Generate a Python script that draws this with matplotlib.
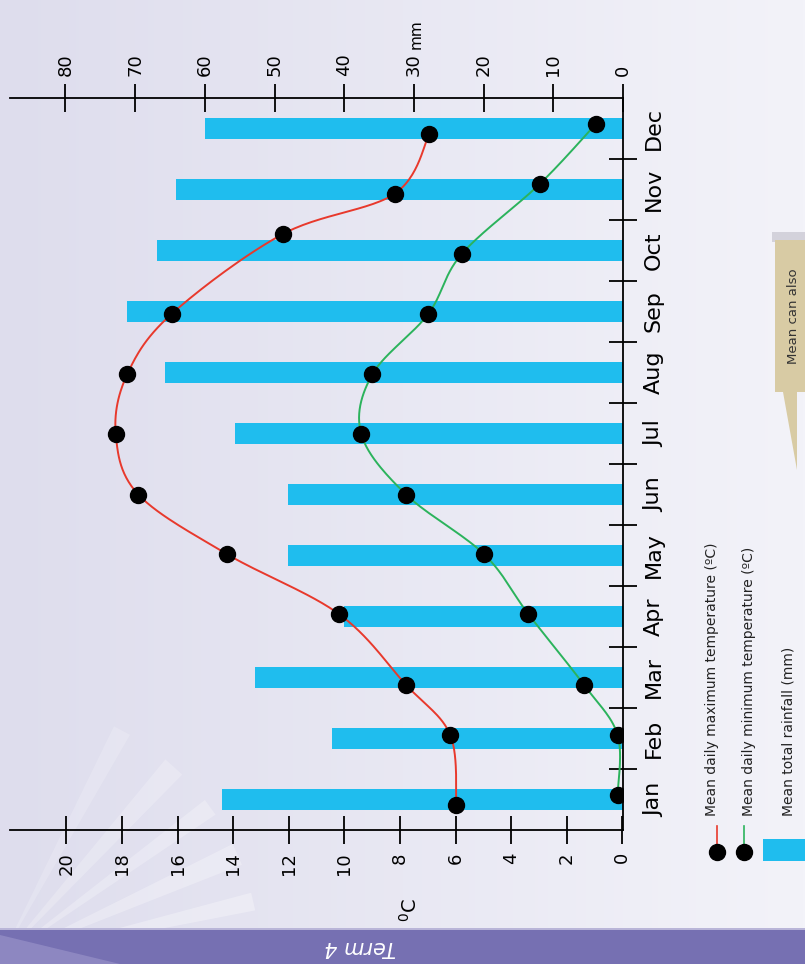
#!/usr/bin/env python3
"""Climate chart (temperature + rainfall), page rotated 90 degrees."""

import numpy as np
import matplotlib

matplotlib.use("Agg")

import matplotlib.pyplot as plt
from matplotlib.lines import Line2D
from matplotlib.patches import Polygon, Rectangle

MONTHS = ["Jan", "Feb", "Mar", "Apr", "May", "Jun",
          "Jul", "Aug", "Sep", "Oct", "Nov", "Dec"]
RAINFALL_MM = [57.5, 41.8, 52.8, 40, 48, 48, 55.7, 65.7, 71.2, 66.8, 64.1, 60]
MAX_TEMP = [5.97, 6.19, 7.78, 10.19, 14.21, 17.41,
            18.22, 17.81, 16.21, 12.21, 8.19, 6.94]
MIN_TEMP = [0.17, 0.17, 1.38, 3.38, 4.97, 7.78,
            9.39, 8.99, 6.98, 5.78, 2.97, 0.96]
# where each dot sits along the month axis (month index + 0.5 = centre)
MAX_MONTH_POS = [0.41, 1.56, 2.38, 3.54, 4.52, 5.50,
                 6.49, 7.47, 8.46, 9.77, 10.43, 11.41]
MIN_MONTH_POS = [0.57, 1.56, 2.38, 3.54, 4.52, 5.50,
                 6.49, 7.47, 8.46, 9.44, 10.59, 11.57]
TEMP_TICKS = [0, 2, 4, 6, 8, 10, 12, 14, 16, 18, 20]
RAIN_TICKS = [0, 10, 20, 30, 40, 50, 60, 70, 80]

W, H = 805, 964
BAR_BLUE = "#1fbdee"
RED = "#e8392c"
GREEN = "#2bb35c"
FONT = "DejaVu Sans"


def px(x, y):
    """Pixel position (from top-left) to figure fraction."""
    return x / W, 1 - y / H


def catmull_rom(xs, ys, steps=30):
    pts = np.column_stack([xs, ys]).astype(float)
    pts = np.vstack([pts[0], pts, pts[-1]])
    out = []
    for i in range(1, len(pts) - 2):
        p0, p1, p2, p3 = pts[i - 1], pts[i], pts[i + 1], pts[i + 2]
        t = np.linspace(0, 1, steps)[:, None]
        seg = 0.5 * ((2 * p1) + (-p0 + p2) * t
                     + (2 * p0 - 5 * p1 + 4 * p2 - p3) * t ** 2
                     + (-p0 + 3 * p1 - 3 * p2 + p3) * t ** 3)
        out.append(seg)
    curve = np.vstack(out)
    return curve[:, 0], curve[:, 1]


fig = plt.figure(figsize=(W / 100, H / 100), dpi=100)

# background page
bg = fig.add_axes([0, 0, 1, 1], zorder=-10)
grad = np.linspace(0, 1, 256)[None, :]
c0 = np.array([222, 221, 237]) / 255
c1 = np.array([243, 243, 249]) / 255
img = c0[None, None, :] * (1 - grad[..., None]) + c1[None, None, :] * grad[..., None]
bg.imshow(img, extent=(0, W, H, 0), aspect="auto")
for ang, spread, alpha in [(62, 4, 0.18), (48, 5, 0.22), (36, 4, 0.25),
                           (24, 5, 0.28), (13, 4, 0.3), (4, 4, 0.3)]:
    a1, a2 = np.radians(ang - spread / 2), np.radians(ang + spread / 2)
    r = 260
    bg.add_patch(Polygon([(0, 960), (r * np.cos(a1), 960 - r * np.sin(a1)),
                          (r * np.cos(a2), 960 - r * np.sin(a2))],
                         closed=True, facecolor="white", alpha=alpha,
                         edgecolor="none"))
bg.add_patch(Rectangle((0, 930), W, 34, facecolor="#7670b2", edgecolor="none"))
bg.add_patch(Rectangle((0, 928), W, 2, facecolor="#b9b5d8", edgecolor="none"))
bg.add_patch(Polygon([(0, 964), (0, 935), (120, 964)], closed=True,
                     facecolor="#9d97cc", alpha=0.6, edgecolor="none"))
# callout box
bg.add_patch(Rectangle((772, 232), 40, 10, facecolor="#8e8898", alpha=0.3,
                       edgecolor="none"))
bg.add_patch(Polygon([(783, 392), (797, 392), (797, 470)], closed=True,
                     facecolor="#d8cba4", edgecolor="none"))
bg.add_patch(Rectangle((775, 240), 40, 152, facecolor="#d8cba4",
                       edgecolor="none"))
bg.set_xlim(0, W)
bg.set_ylim(H, 0)
bg.axis("off")

# main chart axes, placed in pixel terms
x0, x1, ytop, ybot = 10, 623, 98, 830
ax = fig.add_axes([x0 / W, 1 - ybot / H, (x1 - x0) / W, (ybot - ytop) / H])
ax2 = ax.twiny()

t_scale, t_zero = 27.8, 622.3   # px per degree, pixel of 0 degrees
r_scale, r_zero = 7.0, 625.7    # px per mm, pixel of 0 mm
ax.set_xlim((t_zero - x0) / t_scale, (t_zero - x1) / t_scale)
ax2.set_xlim((r_zero - x0) / r_scale, (r_zero - x1) / r_scale)
ax.set_ylim(0, 12)

ypos = np.arange(12) + 0.5
ax2.barh(ypos, RAINFALL_MM, height=0.33, color=BAR_BLUE, zorder=2)

ax.set_zorder(ax2.get_zorder() + 1)
ax.patch.set_visible(False)
ax2.patch.set_visible(False)

for temps, pos, color in [(MAX_TEMP, MAX_MONTH_POS, RED),
                          (MIN_TEMP, MIN_MONTH_POS, GREEN)]:
    cx, cy = catmull_rom(temps, pos)
    ax.plot(cx, cy, color=color, lw=1.4, zorder=3)
    ax.plot(temps, pos, "o", color="black", ms=11.5, zorder=4)

# spines
for s in ["left", "top"]:
    ax.spines[s].set_visible(False)
for s in ["left", "right", "bottom"]:
    ax2.spines[s].set_visible(False)
ax.spines["bottom"].set_linewidth(1.3)
ax.spines["right"].set_linewidth(1.3)
ax2.spines["top"].set_linewidth(1.3)

ax.set_xticks(TEMP_TICKS)
ax.set_xticklabels([str(t) for t in TEMP_TICKS], rotation=90,
                   fontsize=13, family=FONT)
ax.tick_params(axis="x", direction="inout", length=20, width=1.3, pad=6)

ax2.set_xticks(RAIN_TICKS)
ax2.set_xticklabels([str(r) for r in RAIN_TICKS], rotation=90,
                    fontsize=13, family=FONT)
ax2.tick_params(axis="x", direction="inout", length=20, width=1.3, pad=6)

ax.yaxis.tick_right()
ax.set_yticks(np.arange(1, 12))
ax.set_yticklabels([])
ax.tick_params(axis="y", which="major", direction="inout", length=20,
               width=1.3)
ax.set_yticks(ypos, minor=True)
ax.set_yticklabels(MONTHS, minor=True, rotation=90, fontsize=16,
                   family=FONT, va="center")
ax.tick_params(axis="y", which="minor", length=0, pad=15)

# axis unit labels
fig.text(*px(410, 910), "$^{0}$C", rotation=90, fontsize=14, family=FONT,
         ha="center", va="center")
fig.text(*px(416, 34), "mm", rotation=90, fontsize=11, family=FONT,
         ha="center", va="center")

# legend drawn by hand
for lx, color in [(717, RED), (744, GREEN)]:
    fig.add_artist(Line2D([lx / W, lx / W], [1 - 826 / H, 1 - 850 / H],
                          color=color, lw=1.2))
    fig.add_artist(Line2D([lx / W], [1 - 852 / H], marker="o", color="black",
                          ms=11.5))
fig.add_artist(Rectangle(px(763, 861), 50 / W, 22 / H, facecolor=BAR_BLUE,
                         edgecolor="none", transform=fig.transFigure))
for lx, label in [(712, "Mean daily maximum temperature (\u00baC)"),
                  (749, "Mean daily minimum temperature (\u00baC)"),
                  (788, "Mean total rainfall (mm)")]:
    fig.text(*px(lx, 816), label, rotation=90, fontsize=10, family=FONT,
             ha="center", va="bottom", color="#222222")

fig.text(*px(793, 316), "Mean can also", rotation=90, fontsize=9.5,
         family=FONT, ha="center", va="center", color="#333333")
fig.text(*px(360, 947), "Term 4", rotation=180, fontsize=15, family=FONT,
         style="italic", ha="center", va="center", color="white")

fig.savefig("out.png", dpi=100)
